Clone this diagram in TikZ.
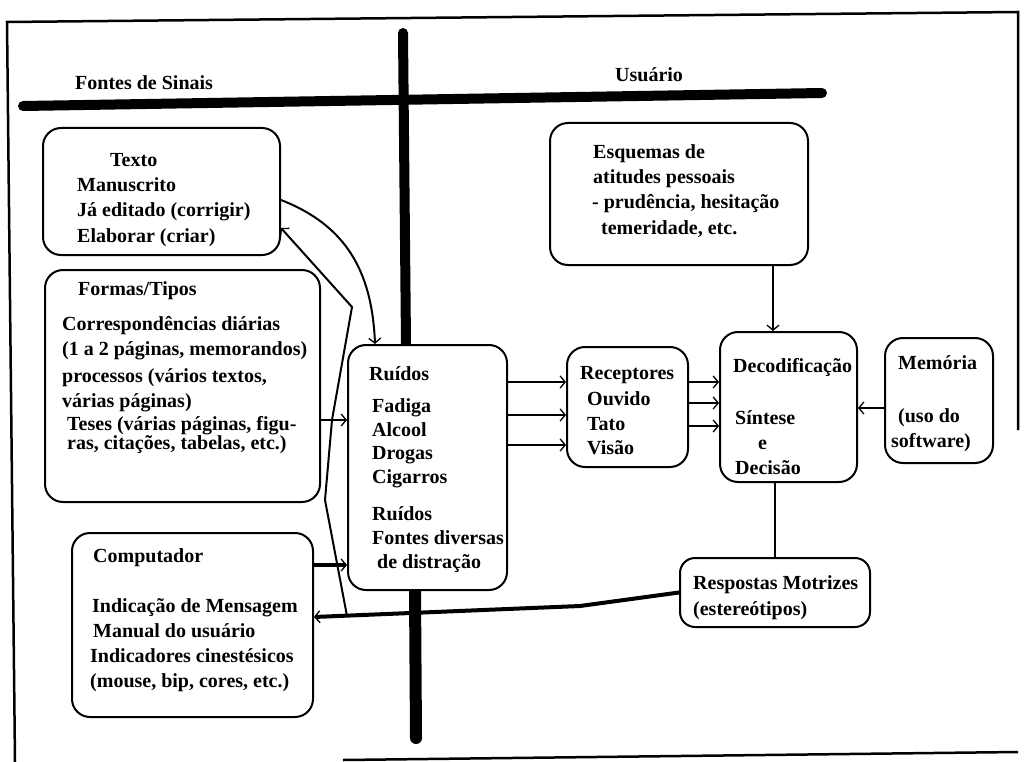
\documentclass[tikz,border=0pt]{standalone}
\usepackage{fontspec}
\setmainfont{Liberation Serif}
\usetikzlibrary{arrows.meta,backgrounds}
\newcommand\Lbl[4]{\node[lbl] (#1) at (#2,#3) {#4};}
\begin{document}
\begin{tikzpicture}[x=1pt,y=-1pt,
  box/.style={draw, line width=2pt, rounded corners=18pt, fill=white, inner sep=0pt},
  lbl/.style={anchor=base west, inner sep=0pt, font=\fontsize{20}{24}\selectfont\bfseries},
  conn/.style={line width=2pt},
  barb/.tip={Straight Barb[length=5pt,width=12pt,line width=1.3pt]},
  arr/.style={conn, -barb},
  thickarr/.style={line width=4pt, -barb},
  bar/.style={line width=10pt, line cap=round},
  frame/.style={line width=2.5pt}]
\useasboundingbox (0,0) rectangle (1025,762);

% frame
\draw[frame] (15,762) -- (7,22) -- (1018,12) -- (1018,430);
\draw[frame] (343,760) -- (1018,752);

% headers
\Lbl{hfontes}{75}{90}{Fontes de Sinais}
\Lbl{husuario}{615}{82}{Usuário}

% boxes
\node[box, minimum width=237pt, minimum height=127pt] (texto) at (161.5,191.5) {};
\node[box, minimum width=275pt, minimum height=232pt] (formas) at (182.5,386) {};
\node[box, minimum width=159pt, minimum height=245pt] (ruidos) at (427.5,467.5) {};
\node[box, minimum width=241pt, minimum height=184pt] (comp) at (192.5,625) {};
\node[box, minimum width=258pt, minimum height=142pt] (esq) at (679,194) {};
\node[box, minimum width=121pt, minimum height=120pt] (recep) at (627.5,407) {};
\node[box, minimum width=137pt, minimum height=150pt] (decod) at (788.5,407) {};
\node[box, minimum width=108pt, minimum height=125pt] (mem) at (939,400.5) {};
\node[box, rounded corners=15pt, minimum width=190pt, minimum height=69pt] (resp) at (775,592.5) {};

% thick bars (behind)
\begin{scope}[on background layer]
\draw[bar] (23,106) -- (822,93);
\draw[bar] (403,33) -- (ruidos.north -| 406,0);
\draw[bar, line width=12pt] (ruidos.south -| 415,0) -- (416,738);
\end{scope}

% texts
\Lbl{t1}{110}{167}{Texto}
\Lbl{t2}{77}{192}{Manuscrito}
\Lbl{t3}{77}{217}{Já editado (corrigir)}
\Lbl{t4}{77}{242}{Elaborar (criar)}

\Lbl{f1}{78}{295}{Formas/Tipos}
\Lbl{f2}{62}{330}{Correspondências diárias}
\Lbl{f3}{62}{355}{(1 a 2 páginas, memorandos)}
\Lbl{f4}{62}{382}{processos (vários textos,}
\Lbl{f5}{62}{407}{várias páginas)}
\Lbl{f6}{67}{430}{Teses (várias páginas, figu-}
\Lbl{f7}{67}{449}{ras, citações, tabelas, etc.)}

\Lbl{r1}{369}{380}{Ruídos}
\Lbl{r2}{372}{412}{Fadiga}
\Lbl{r3}{372}{436}{Alcool}
\Lbl{r4}{372}{459}{Drogas}
\Lbl{r5}{372}{483}{Cigarros}
\Lbl{r6}{372}{520}{Ruídos}
\Lbl{r7}{372}{544}{Fontes diversas}
\Lbl{r8}{377}{568}{de distração}

\Lbl{c1}{93}{562}{Computador}
\Lbl{c2}{92}{612}{Indicação de Mensagem}
\Lbl{c3}{93}{637}{Manual do usuário}
\Lbl{c4}{90}{662}{Indicadores cinestésicos}
\Lbl{c5}{90}{687}{(mouse, bip, cores, etc.)}

\Lbl{e1}{593}{159}{Esquemas de}
\Lbl{e2}{593}{184}{atitudes pessoais}
\Lbl{e3}{592}{209}{- prudência, hesitação}
\Lbl{e4}{601}{234}{temeridade, etc.}

\Lbl{p1}{580}{379}{Receptores}
\Lbl{p2}{587}{405}{Ouvido}
\Lbl{p3}{587}{430}{Tato}
\Lbl{p4}{587}{454}{Visão}

\Lbl{d1}{733}{372}{Decodificação}
\Lbl{d2}{735}{424}{Síntese}
\Lbl{d3}{758}{449}{e}
\Lbl{d4}{735}{474}{Decisão}

\Lbl{m1}{898}{369}{Memória}
\Lbl{m2}{898}{422}{(uso do}
\Lbl{m3}{891}{447}{software)}

\Lbl{s1}{693}{589}{Respostas Motrizes}
\Lbl{s2}{693}{615}{(estereótipos)}

% connectors
\draw[arr] (ruidos.east |- 0,382) -- (recep.west |- 0,382);
\draw[arr] (ruidos.east |- 0,415) -- (recep.west |- 0,415);
\draw[arr] (ruidos.east |- 0,445) -- (recep.west |- 0,445);
\draw[arr] (recep.east |- 0,382) -- (decod.west |- 0,382);
\draw[arr] (recep.east |- 0,403) -- (decod.west |- 0,403);
\draw[arr] (recep.east |- 0,426) -- (decod.west |- 0,426);
\draw[arr] (esq.south -| 773,0) -- (decod.north -| 773,0);
\draw[arr] (mem.west |- 0,408) -- (decod.east |- 0,408);
\draw[conn] (decod.south -| 775,0) -- (resp.north -| 775,0);
\draw[arr] (formas.east |- 0,420) -- (ruidos.west |- 0,420);
\draw[thickarr] (comp.east |- 0,565) -- (ruidos.west |- 0,565);
\coordinate (rb) at (580,606);
\coordinate (j) at (347,616);
\draw[thickarr] (resp.west) -- (rb) -- (comp.east |- 0,617);
\draw[arr] (j) -- (325,500) -- (332,420) -- (352,307) -- (texto.east |- 0,228);
\draw[arr] (texto.east |- 0,200) .. controls (345,225) and (372,270) .. (ruidos.north -| 375,0);
\end{tikzpicture}
\end{document}
